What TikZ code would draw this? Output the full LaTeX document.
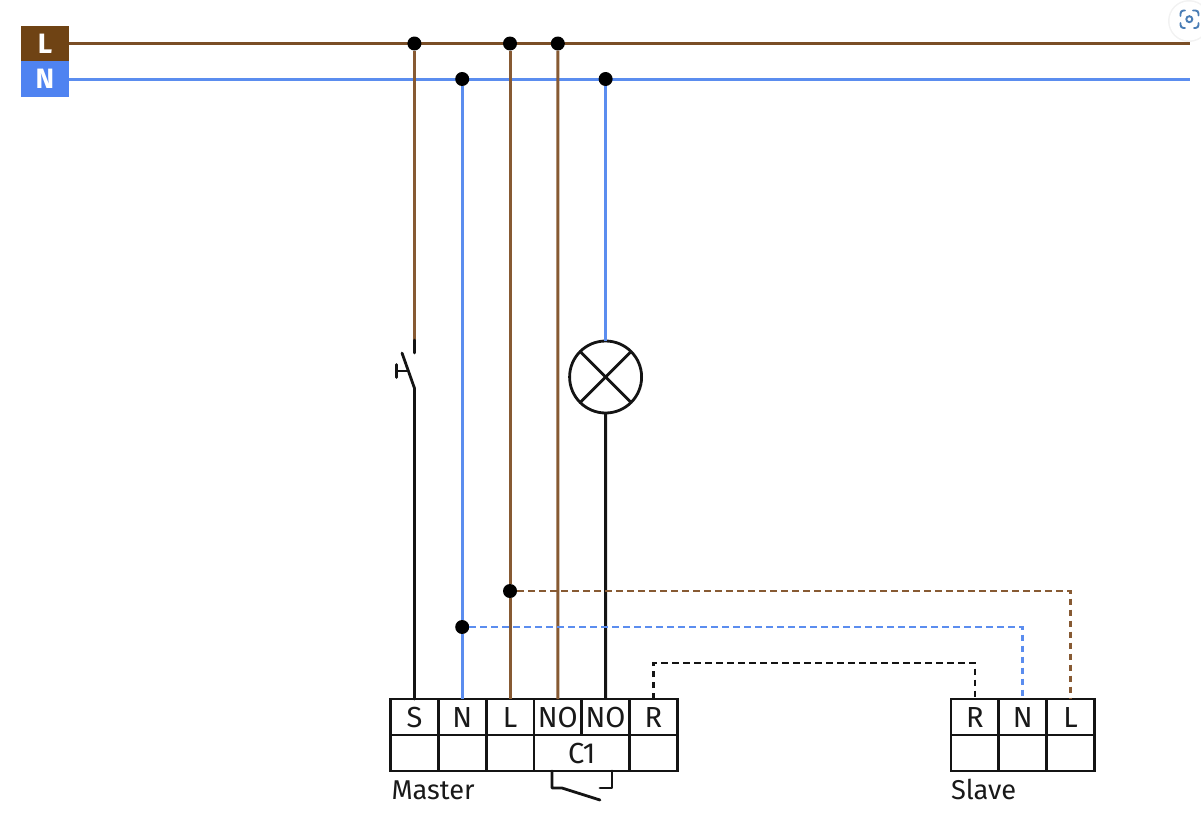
\documentclass[tikz,border=0pt]{standalone}
\usepackage{fontspec}
\setmainfont{Fira Sans}
\definecolor{wirebrown}{HTML}{875A33}
\definecolor{barbrown}{HTML}{7A4E26}
\definecolor{boxbrown}{HTML}{6F4314}
\definecolor{wireblue}{HTML}{5B8DEF}
\definecolor{boxblue}{HTML}{4F83F1}
\definecolor{iconblue}{HTML}{4A7DB5}
\definecolor{wireblack}{HTML}{141414}
\tikzset{
  x=1pt,y=-1pt,
  cellbox/.style={draw=wireblack,line width=2.8pt,outer sep=0pt,minimum width=47.8pt,minimum height=36pt,inner sep=0pt,anchor=north west,font=\fontsize{29}{29}\selectfont,text=black!90},
  widecell/.style={cellbox,minimum width=95.6pt},
  legendbox/.style={minimum width=48pt,inner sep=0pt,outer sep=0pt,anchor=north west,text=white,font=\fontsize{28}{28}\selectfont\bfseries},
  junction/.style={circle,fill=black,minimum size=14pt,inner sep=0pt,outer sep=0pt},
  wire/.style={line width=3pt},
  dashwire/.style={line width=2.7pt,dash pattern=on 6.5pt off 4.5pt},
  caption/.style={anchor=base west,inner sep=0pt,outer sep=0pt,font=\fontsize{27.2}{27.2}\selectfont,text=black!90},
  symbolline/.style={line width=2.8pt,draw=wireblack,line cap=round,line join=round},
}
\begin{document}
\begin{tikzpicture}
\useasboundingbox (0,0) rectangle (1201,835);
% legend
\node[legendbox,fill=boxbrown,minimum height=35pt] (Lbox) at (21,26) {L};
\node[legendbox,fill=boxblue,minimum height=36pt] (Nbox) at (21,61) {N};
\coordinate (Lend) at (1190,43.5);
\coordinate (Nend) at (1190,79);
\draw[wire,barbrown] (Lbox.east) -- (Lend);
\draw[wire,wireblue] (Nbox.east) -- (Nend);
% master terminals
\node[cellbox] (mS) at (390.5,699) {S};
\node[cellbox] (mN) at (438.3,699) {N};
\node[cellbox] (mL) at (486.1,699) {L};
\node[cellbox] (mNOa) at (533.9,699) {NO};
\node[cellbox] (mNOb) at (581.7,699) {NO};
\node[cellbox] (mR) at (629.5,699) {R};
\node[cellbox] (mSb) at (390.5,735) {};
\node[cellbox] (mNb) at (438.3,735) {};
\node[cellbox] (mLb) at (486.1,735) {};
\node[widecell] (mC) at (533.9,735) {C1};
\node[cellbox] (mRb) at (629.5,735) {};
\node[caption] (master) at (391.5,799) {Master};
% slave terminals
\node[cellbox] (sR) at (951,699) {R};
\node[cellbox] (sN) at (998.8,699) {N};
\node[cellbox] (sL) at (1046.6,699) {L};
\node[cellbox] (sRb) at (951,735) {};
\node[cellbox] (sNb) at (998.8,735) {};
\node[cellbox] (sLb) at (1046.6,735) {};
\node[caption] (slave) at (951,799) {Slave};
% junctions
\node[junction] (jS) at (414.4,43.5) {};
\node[junction] (jLa) at (510,43.5) {};
\node[junction] (jNOa) at (557.8,43.5) {};
\node[junction] (jNa) at (462.2,79) {};
\node[junction] (jLamp) at (605.6,79) {};
\node[junction] (jLb) at (510,591) {};
\node[junction] (jNb) at (462.2,627) {};
% lamp
\node[circle,draw=wireblack,line width=2.8pt,outer sep=0pt,minimum size=72pt,inner sep=0pt] (lamp) at (605.6,377) {};
\draw[symbolline] (lamp.45) -- (lamp.225);
\draw[symbolline] (lamp.135) -- (lamp.315);
% switch
\coordinate (swColor) at (414.4,340);
\coordinate (swTop) at (414.4,353);
\coordinate (swBot) at (414.4,388);
\coordinate (swTip) at (402,353);
\coordinate (swPush) at (407,371);
\coordinate (swBtn) at (396.5,371);
\draw[wire,wirebrown] (jS) -- (swColor);
\draw[symbolline] (swColor) -- (swTop);
\draw[symbolline] (swTip) -- (swBot) -- (mS.north);
\draw[symbolline] (swPush) -- (swBtn);
\draw[symbolline] (396.5,364.5) -- (396.5,377.5);
% vertical wires
\draw[wire,wireblue] (jNa) -- (jNb);
\draw[wire,wireblue] (jNb) -- (mN.north);
\draw[wire,wirebrown] (jLa) -- (jLb);
\draw[wire,wirebrown] (jLb) -- (mL.north);
\draw[wire,wirebrown] (jNOa) -- (mNOa.north);
\draw[wire,wireblue] (jLamp) -- (lamp.north);
\draw[wire,wireblack] (lamp.south) -- (mNOb.north);
% dashed wires
\draw[dashwire,wirebrown] (jLb) -| (sL.north);
\draw[dashwire,wireblue] (jNb) -| (sN.north);
\coordinate (rTurn) at (974.9,663);
\draw[dashwire,wireblack] (mR.north) |- (rTurn) -- (sR.north);
% C1 contact
\coordinate (cA) at (552,771);
\coordinate (cB) at (552,788);
\coordinate (cC) at (562,788);
\coordinate (cD) at (600,800);
\coordinate (cE) at (612,771);
\coordinate (cF) at (612,788);
\coordinate (cG) at (600,788);
\draw[symbolline] (cA) -- (cB) -- (cC) -- (cD);
\draw[symbolline] (cE) -- (cF) -- (cG);
% viewer icon
\fill[black!5] (1189,21) circle (21);
\fill[white] (1189,21) circle (19.5);
\begin{scope}[iconblue,line width=1.9pt,line cap=round,rounded corners=3pt]
\draw (1180.5,16) -- (1180.5,10.5) -- (1185,10.5);
\draw (1193,10.5) -- (1198.5,10.5) -- (1198.5,15.5);
\draw (1198.5,23) -- (1198.5,28) -- (1194,28);
\draw (1185,28) -- (1180.5,28) -- (1180.5,23);
\draw (1189.3,19.2) circle (3);
\end{scope}
\end{tikzpicture}
\end{document}
